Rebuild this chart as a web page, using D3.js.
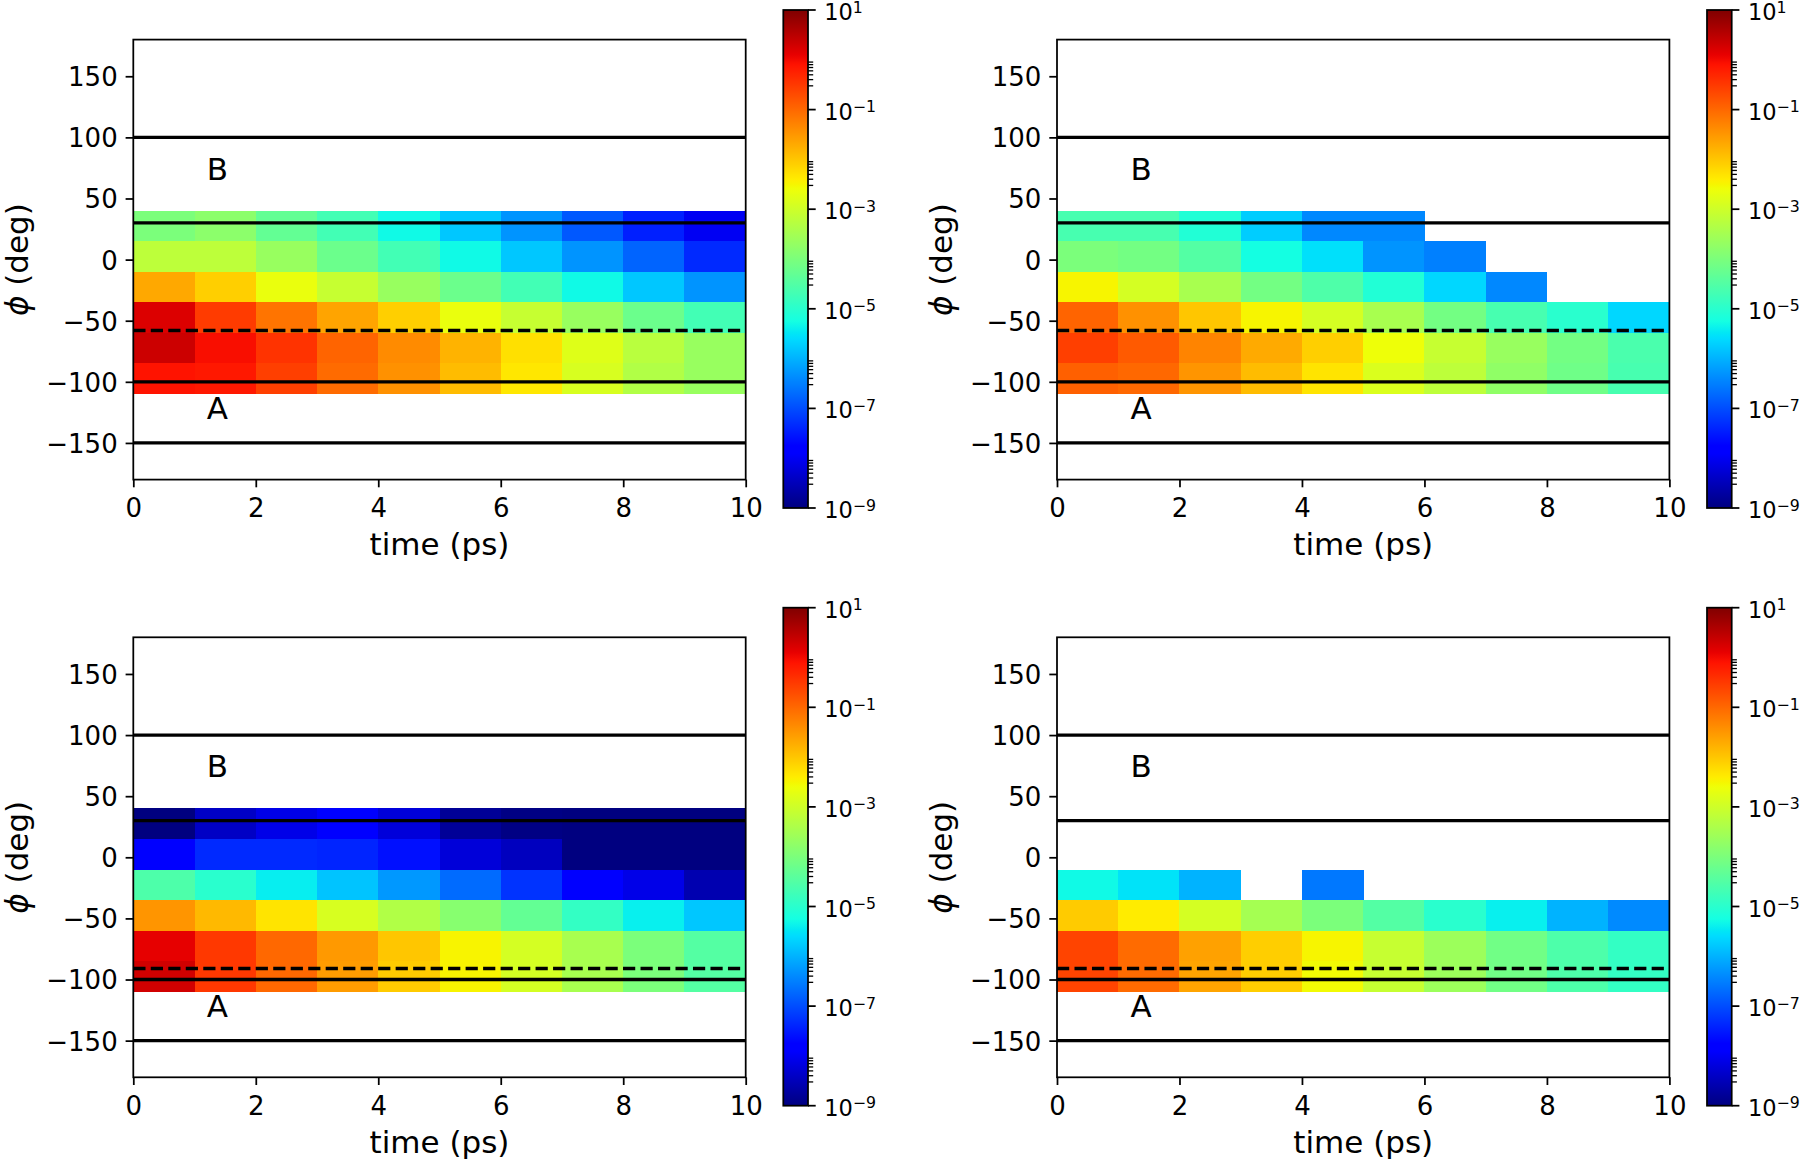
<!DOCTYPE html>
<html>
<head>
<meta charset="utf-8">
<script src="https://cdn.jsdelivr.net/npm/d3@7"></script>
<style>
  html, body { margin: 0; padding: 0; background: #fff; }
  svg { display: block; font-family: "DejaVu Sans", sans-serif; }
</style>
</head>
<body>
<svg id="chart" width="1800" height="1161"></svg>
<script>
// ---------------- data ----------------
const timeEdges = [0, 1, 2, 3, 4, 5, 6, 7, 8, 9, 10];
// lower edge of each phi bin (25 deg wide), listed top row first
const phiBins = [15, -10, -35, -60, -85, -110];
const phiBinWidth = 25;

const xTicks = [0, 2, 4, 6, 8, 10];
const yTicks = [-150, -100, -50, 0, 50, 100, 150];
const cbMajorTicks = [1e-9, 1e-7, 1e-5, 1e-3, 1e-1, 1e1];
const cbMajorExp = ["\u22129", "\u22127", "\u22125", "\u22123", "\u22121", "1"];
const cbMinorDecades = [1e-9, 1e-7, 1e-5, 1e-3, 1e-1];
const cbMinorSubs = [3, 4, 5, 6, 7, 8, 9];

const solidLines = [100, 30, -100, -150];

// densities, rows top (15..40) to bottom (-110..-85), columns t = 0..1 ... 9..10 ps
const densTopLeft = [
  [1.0e-4, 1.6e-4, 5.0e-5, 2.0e-5, 5.0e-6, 1.6e-6, 5.0e-7, 1.3e-7, 3.6e-8, 1.0e-8],
  [6.3e-4, 6.3e-4, 2.2e-4, 6.3e-5, 2.0e-5, 5.0e-6, 1.6e-6, 5.0e-7, 1.7e-7, 4.5e-8],
  [2.1e-2, 8.0e-3, 2.2e-3, 8.0e-4, 2.2e-4, 6.3e-5, 2.0e-5, 5.0e-6, 1.6e-6, 5.0e-7],
  [1.6, 0.30, 7.4e-2, 2.3e-2, 8.0e-3, 2.2e-3, 8.0e-4, 2.2e-4, 6.3e-5, 2.0e-5],
  [2.2, 0.90, 0.36, 0.11, 4.2e-2, 1.6e-2, 5.4e-3, 1.6e-3, 5.6e-4, 2.2e-4],
  [0.80, 0.70, 0.27, 9.3e-2, 3.7e-2, 1.3e-2, 4.5e-3, 1.3e-3, 4.5e-4, 2.2e-4]
];
const densTopRight = [
  [2.3e-5, 2.3e-5, 8.0e-6, 1.8e-6, 3.8e-7, 3.8e-7, null, null, null, null],
  [1.0e-4, 8.0e-5, 3.2e-5, 5.6e-6, 2.8e-6, 5.0e-7, 3.2e-7, null, null, null],
  [3.2e-3, 1.2e-3, 3.5e-4, 8.0e-5, 2.8e-5, 8.0e-6, 2.3e-6, 3.8e-7, null, null],
  [0.11, 3.7e-2, 1.0e-2, 3.2e-3, 1.2e-3, 3.5e-4, 8.0e-5, 2.3e-5, 1.0e-5, 2.3e-6],
  [0.27, 0.14, 5.0e-2, 2.0e-2, 8.0e-3, 2.5e-3, 8.0e-4, 2.2e-4, 8.0e-5, 2.5e-5],
  [0.12, 0.10, 3.3e-2, 1.3e-2, 4.8e-3, 1.4e-3, 6.3e-4, 1.8e-4, 7.0e-5, 2.3e-5]
];
const densBottomLeft = [
  [1.0e-9, 4.0e-9, 8.0e-9, 1.4e-8, 6.0e-9, 1.6e-9, 1.1e-9, 1.0e-9, 1.0e-9, 1.0e-9],
  [1.4e-8, 4.5e-8, 4.5e-8, 4.0e-8, 2.5e-8, 5.9e-9, 3.5e-9, 1.0e-9, 1.0e-9, 1.0e-9],
  [2.7e-5, 1.0e-5, 3.8e-6, 1.5e-6, 5.5e-7, 2.0e-7, 5.6e-8, 1.4e-8, 8.0e-9, 2.6e-9],
  [3.3e-2, 1.4e-2, 4.8e-3, 1.3e-3, 4.5e-4, 1.4e-4, 5.0e-5, 1.3e-5, 4.0e-6, 1.6e-6],
  [1.3, 0.32, 0.10, 3.0e-2, 1.0e-2, 3.3e-3, 1.2e-3, 3.5e-4, 1.0e-4, 3.3e-5],
  [2.0, 0.32, 0.10, 2.8e-2, 9.0e-3, 3.3e-3, 1.2e-3, 3.5e-4, 1.0e-4, 3.3e-5]
];
const densBottomRight = [
  [null, null, null, null, null, null, null, null, null, null],
  [null, null, null, null, null, null, null, null, null, null],
  [5.0e-6, 3.0e-6, 1.0e-6, null, 2.7e-7, null, null, null, null, null],
  [9.0e-3, 4.0e-3, 1.2e-3, 3.2e-4, 1.0e-4, 3.2e-5, 1.0e-5, 4.0e-6, 1.0e-6, 4.0e-7],
  [0.24, 9.3e-2, 2.5e-2, 8.3e-3, 3.2e-3, 8.0e-4, 2.5e-4, 7.4e-5, 2.7e-5, 1.3e-5],
  [0.24, 9.3e-2, 2.3e-2, 8.3e-3, 2.8e-3, 8.0e-4, 2.5e-4, 7.4e-5, 2.7e-5, 1.3e-5]
];
const dashedLines = [-58, -58, -91, -91];
const regionLabels = [{text: "B", t: 1.2, phi: 65.5}, {text: "A", t: 1.2, phi: -130.5}];

// ---------------- layout ----------------
const panels = [
  {x0: 133.3, y0: 39.6, dens: densTopLeft, dash: dashedLines[0]},
  {x0: 1057,  y0: 39.6, dens: densTopRight, dash: dashedLines[1]},
  {x0: 133.3, y0: 637.3, dens: densBottomLeft, dash: dashedLines[2]},
  {x0: 1057,  y0: 637.3, dens: densBottomRight, dash: dashedLines[3]}
];
const W = 612.4, H = 440;
const PT = 2.2; // px per point
const tickFont = 26, labelFont = 31, cbFont = 22.5;

// matplotlib "jet"
function jet(t) {
  t = Math.max(0, Math.min(1, t));
  const f = pts => {
    for (let i = 1; i < pts.length; i++) {
      if (t <= pts[i][0]) {
        const [a, ya] = pts[i - 1], [b, yb] = pts[i];
        return ya + (yb - ya) * (t - a) / (b - a);
      }
    }
    return pts[pts.length - 1][1];
  };
  const r = f([[0, 0], [0.35, 0], [0.66, 1], [0.89, 1], [1, 0.5]]);
  const g = f([[0, 0], [0.125, 0], [0.375, 1], [0.64, 1], [0.91, 0], [1, 0]]);
  const b = f([[0, 0.5], [0.11, 1], [0.34, 1], [0.65, 0], [1, 0]]);
  return d3.rgb(Math.round(r * 255), Math.round(g * 255), Math.round(b * 255)).formatHex();
}
const norm = d3.scaleLog().domain([1e-9, 1e1]).range([0, 1]).clamp(true);
const colorOf = v => jet(norm(v));

const svg = d3.select("#chart");
svg.append("rect").attr("width", 1800).attr("height", 1161).attr("fill", "#fff");

const fmtNum = d => d < 0 ? "\u2212" + (-d) : String(d);

panels.forEach((p, pi) => {
  const x = d3.scaleLinear().domain([0, 10]).range([p.x0, p.x0 + W]);
  const y = d3.scaleLinear().domain([-180, 180]).range([p.y0 + H, p.y0]);
  const g = svg.append("g");

  // cells
  const cells = [];
  p.dens.forEach((row, ri) => {
    row.forEach((v, ci) => {
      if (v !== null) cells.push({t0: timeEdges[ci], t1: timeEdges[ci + 1], p0: phiBins[ri], p1: phiBins[ri] + phiBinWidth, v});
    });
  });
  g.append("g").selectAll("rect").data(cells).join("rect")
    .attr("x", d => x(d.t0))
    .attr("y", d => y(d.p1))
    .attr("width", d => x(d.t1) - x(d.t0) + 0.3)
    .attr("height", d => y(d.p0) - y(d.p1) + 0.3)
    .attr("fill", d => colorOf(d.v))
    .attr("shape-rendering", "crispEdges");

  // horizontal reference lines
  g.append("g").selectAll("line").data(solidLines).join("line")
    .attr("x1", x(0)).attr("x2", x(10))
    .attr("y1", d => y(d)).attr("y2", d => y(d))
    .attr("stroke", "#000").attr("stroke-width", 1.5 * PT);
  g.append("line")
    .attr("x1", x(0)).attr("x2", x(10))
    .attr("y1", y(p.dash)).attr("y2", y(p.dash))
    .attr("stroke", "#000").attr("stroke-width", 1.5 * PT)
    .attr("stroke-dasharray", `${3.7 * 1.5 * PT} ${1.6 * 1.5 * PT}`);

  // region labels
  g.append("g").selectAll("text").data(regionLabels).join("text")
    .attr("x", d => x(d.t)).attr("y", d => y(d.phi))
    .attr("font-size", labelFont).attr("fill", "#000")
    .text(d => d.text);

  // axes
  const xAxis = d3.axisBottom(x).tickValues(xTicks).tickSize(3.5 * PT).tickSizeOuter(0).tickFormat(fmtNum);
  const yAxis = d3.axisLeft(y).tickValues(yTicks).tickSize(3.5 * PT).tickSizeOuter(0).tickFormat(fmtNum);
  const gx = g.append("g").attr("transform", `translate(0,${p.y0 + H})`).call(xAxis);
  const gy = g.append("g").attr("transform", `translate(${p.x0},0)`).call(yAxis);
  [gx, gy].forEach(ax => {
    ax.select(".domain").remove();
    ax.selectAll(".tick line").attr("stroke", "#000").attr("stroke-width", 0.8 * PT);
    ax.selectAll(".tick text").attr("font-size", tickFont).attr("fill", "#000")
      .attr("font-family", "DejaVu Sans");
  });
  gx.selectAll(".tick text").attr("y", 37.5).attr("dy", null);
  gy.selectAll(".tick text").attr("x", -15.6).attr("dy", 9.4);

  // frame
  g.append("rect").attr("x", p.x0).attr("y", p.y0).attr("width", W).attr("height", H)
    .attr("fill", "none").attr("stroke", "#000").attr("stroke-width", 0.8 * PT);

  // axis labels
  g.append("text").attr("x", p.x0 + W / 2).attr("y", p.y0 + H + 75.5)
    .attr("text-anchor", "middle").attr("font-size", labelFont).attr("fill", "#000")
    .text("time (ps)");
  const yl = g.append("text")
    .attr("transform", `translate(${p.x0 - 105.3},${p.y0 + H / 2}) rotate(-90)`)
    .attr("text-anchor", "middle").attr("font-size", labelFont).attr("fill", "#000");
  yl.append("tspan").attr("font-style", "italic").text("\u03D5");
  yl.append("tspan").text(" (deg)");

  // colorbar
  const cbX = p.x0 + 650, cbW = 24.7, cbTop = p.y0 - 29.6, cbBot = p.y0 + 468.4;
  const cy = d3.scaleLog().domain([1e-9, 1e1]).range([cbBot, cbTop]);
  const gradId = "jetgrad" + pi;
  const grad = svg.append("defs").append("linearGradient").attr("id", gradId)
    .attr("x1", 0).attr("y1", 1).attr("x2", 0).attr("y2", 0);
  d3.range(0, 257).forEach(i => {
    const t = i / 256;
    grad.append("stop").attr("offset", t).attr("stop-color", jet(t));
  });
  g.append("rect").attr("x", cbX).attr("y", cbTop).attr("width", cbW).attr("height", cbBot - cbTop)
    .attr("fill", `url(#${gradId})`);
  g.append("rect").attr("x", cbX).attr("y", cbTop).attr("width", cbW).attr("height", cbBot - cbTop)
    .attr("fill", "none").attr("stroke", "#000").attr("stroke-width", 0.8 * PT);

  const minorVals = [];
  cbMinorDecades.forEach(dcd => cbMinorSubs.forEach(k => minorVals.push(dcd * k)));
  g.append("g").selectAll("line").data(minorVals).join("line")
    .attr("x1", cbX + cbW).attr("x2", cbX + cbW + 5.2)
    .attr("y1", d => cy(d)).attr("y2", d => cy(d))
    .attr("stroke", "#000").attr("stroke-width", 1.3);
  g.append("g").selectAll("line").data(cbMajorTicks).join("line")
    .attr("x1", cbX + cbW).attr("x2", cbX + cbW + 3.5 * PT)
    .attr("y1", d => cy(d)).attr("y2", d => cy(d))
    .attr("stroke", "#000").attr("stroke-width", 0.8 * PT);
  const lbl = g.append("g").selectAll("text").data(cbMajorTicks).join("text")
    .attr("x", cbX + cbW + 16.2).attr("y", d => cy(d) + 10)
    .attr("font-size", cbFont).attr("fill", "#000");
  lbl.append("tspan").text("10");
  lbl.append("tspan").attr("font-size", cbFont * 0.7).attr("dy", -7.5)
    .text((d, i) => cbMajorExp[i]);
});
</script>
</body>
</html>
